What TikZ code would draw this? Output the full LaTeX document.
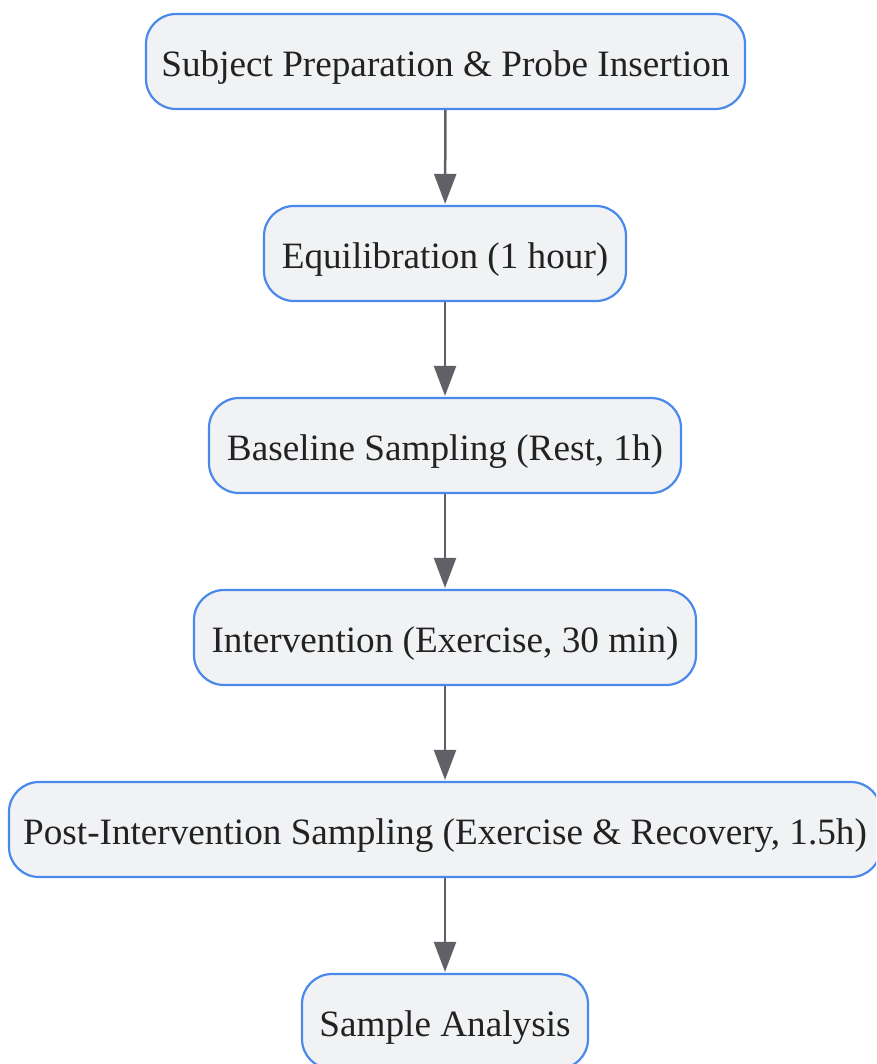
\documentclass[tikz,border=0pt]{standalone}
\usepackage{fontspec}
\setmainfont{Liberation Serif}
\usetikzlibrary{arrows.meta}
\definecolor{boxfill}{HTML}{F1F2F4}
\definecolor{boxline}{HTML}{4A89EC}
\definecolor{arrowc}{HTML}{5F6166}
\definecolor{textc}{HTML}{222222}
\begin{document}
\begin{tikzpicture}[x=1pt,y=-1pt,
  stepbox/.style={draw=boxline, fill=boxfill, line width=2.2pt, rounded corners=30pt,
    minimum height=95pt, inner sep=0pt, text=textc, font=\fontsize{37.2}{44}\selectfont,
    text height=30pt, text depth=0pt, anchor=center},
  flow/.style={draw=arrowc, line width=2.5pt, -{Triangle[length=30pt,width=22pt]}, shorten >=1pt}
]
\useasboundingbox (0,0) rectangle (876,1064);
\clip (0,0) rectangle (876,1064);
\node[stepbox, minimum width=599pt] (n1) at (445.5,61.5) {Subject Preparation \& Probe Insertion};
\node[stepbox, minimum width=362pt] (n2) at (445,253.5) {Equilibration (1 hour)};
\node[stepbox, minimum width=472pt] (n3) at (445,445.5) {Baseline Sampling (Rest, 1h)};
\node[stepbox, minimum width=502pt] (n4) at (445,637.5) {Intervention (Exercise, 30 min)};
\node[stepbox, minimum width=872pt] (n5) at (445,829.5) {Post-Intervention Sampling (Exercise \& Recovery, 1.5h)};
\node[stepbox, minimum width=286pt] (n6) at (445,1021.5) {Sample Analysis};
\draw[flow] (n1) -- (n2);
\draw[flow] (n2) -- (n3);
\draw[flow] (n3) -- (n4);
\draw[flow] (n4) -- (n5);
\draw[flow] (n5) -- (n6);
\end{tikzpicture}
\end{document}
